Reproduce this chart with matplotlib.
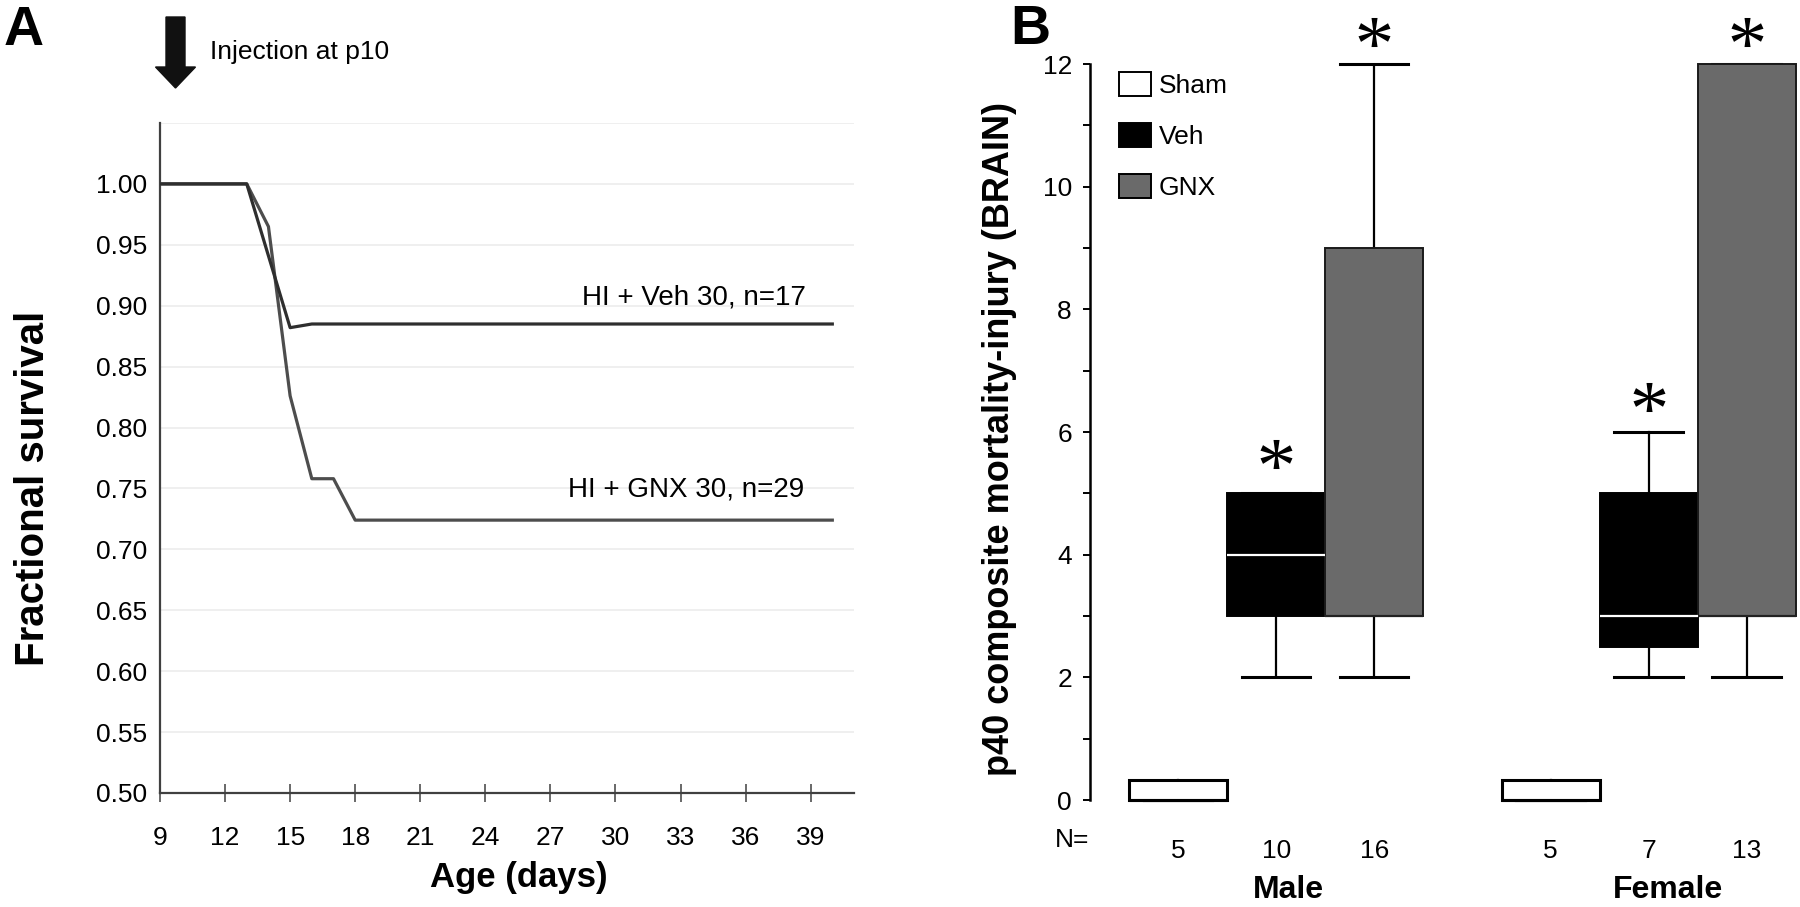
import matplotlib
matplotlib.use("Agg")
from matplotlib import pyplot as plt
from matplotlib.patches import Patch, FancyArrow
from matplotlib.textpath import TextPath
from matplotlib.font_manager import FontProperties
from matplotlib.path import Path
import numpy as np

plt.rcParams["font.family"] = ["Liberation Sans", "DejaVu Sans"]

# ---- panel A: survival curves ----
days_veh = [9, 10, 11, 12, 13, 15, 16, 40]
surv_veh = [1.0, 1.0, 1.0, 1.0, 1.0, 0.882, 0.885, 0.885]
days_gnx = [9, 10, 11, 12, 13, 14, 15, 16, 17, 18, 40]
surv_gnx = [1.0, 1.0, 1.0, 1.0, 1.0, 0.965, 0.826, 0.758, 0.758, 0.724, 0.724]
label_veh = "HI + Veh 30, n=17"
label_gnx = "HI + GNX 30, n=29"
x_ticks_a = list(range(9, 40, 3))
y_ticks_a = [0.50, 0.55, 0.60, 0.65, 0.70, 0.75, 0.80, 0.85, 0.90, 0.95, 1.00, 1.05]

# ---- panel B: box plots ----
groups = ["Sham", "Veh", "GNX"]
male_q1 = [0, 3, 3]
male_med = [0, 4, 3]
male_q3 = [0.33, 5, 9]
male_lo = [0, 2, 2]
male_hi = [0, 5, 12]
female_q1 = [0, 2.5, 3]
female_med = [0, 3, 3]
female_q3 = [0.33, 5, 12]
female_lo = [0, 2, 2]
female_hi = [0, 6, 12]
n_male = [5, 10, 16]
n_female = [5, 7, 13]
# asterisk heights (value units) for Veh and GNX in each sex
star_male = [5.64, 12.52]
star_female = [6.57, 12.52]

fig = plt.figure(figsize=(18, 9.07), dpi=100)

# ================= Panel A =================
ax = fig.add_axes([160 / 1800, 1 - 793 / 907, 694 / 1800, 670 / 907])
ax.plot(days_gnx, surv_gnx, color="#4d4d4d", lw=2.3, zorder=3)
ax.plot(days_veh, surv_veh, color="#2e2e2e", lw=2.3, zorder=4)
ax.set_xlim(9, 41)
ax.set_ylim(0.5, 1.05)
ax.set_xticks(x_ticks_a)
ax.set_xticklabels([str(d) for d in x_ticks_a], fontsize=19)
ax.set_yticks(y_ticks_a)
ax.set_yticklabels(["%.2f" % v for v in y_ticks_a[:-1]] + [""], fontsize=19)
ax.grid(axis="y", color="#ececec", lw=1.2)
ax.set_axisbelow(True)
for s in ["top", "right"]:
    ax.spines[s].set_visible(False)
for s in ["left", "bottom"]:
    ax.spines[s].set_color("#404040")
    ax.spines[s].set_linewidth(1.6)
ax.tick_params(axis="x", direction="inout", length=13, width=1.1, color="#404040", pad=17)
ax.tick_params(axis="y", length=0, pad=9)
ax.text(38.8, 0.907, label_veh, ha="right", va="center", fontsize=20)
ax.text(38.7, 0.749, label_gnx, ha="right", va="center", fontsize=20)

fig.text(4 / 1800, 1 - 31 / 907, "A", fontsize=40, fontweight="bold", va="center", ha="left")
arrow = FancyArrow(1.755, 8.90, 0, -0.71, width=0.19, head_width=0.40, head_length=0.21,
                   length_includes_head=True, color="#111111", transform=fig.dpi_scale_trans)
fig.patches.append(arrow)
fig.text(210 / 1800, 1 - 52 / 907, "Injection at p10", fontsize=19, va="center", ha="left")
fig.text(33 / 1800, 1 - 488 / 907, "Fractional survival", rotation=90, fontsize=29,
         fontweight="bold", va="center", ha="center")
fig.text(519 / 1800, 1 - 877 / 907, "Age (days)", fontsize=25, fontweight="bold",
         va="center", ha="center")

# ================= Panel B =================
bx = fig.add_axes([1090 / 1800, 1 - 800 / 907, 710 / 1800, 736 / 907])
pos_male = [0.9, 1.9, 2.9]
pos_female = [4.7, 5.7, 6.7]
stats = []
for q1, med, q3, lo, hi in zip(male_q1 + female_q1, male_med + female_med,
                               male_q3 + female_q3, male_lo + female_lo,
                               male_hi + female_hi):
    stats.append(dict(q1=q1, med=med, q3=q3, whislo=lo, whishi=hi))
bp = bx.bxp(stats, positions=pos_male + pos_female, widths=1.0, patch_artist=True,
            showfliers=False, capwidths=0.7, manage_ticks=False)
fills = ["white", "black", "#6a6a6a"] * 2
med_cols = ["black", "white", "#222222"] * 2
for i, box in enumerate(bp["boxes"]):
    box.set_facecolor(fills[i])
    box.set_edgecolor("black" if i % 3 != 2 else "#1a1a1a")
    box.set_linewidth(2.2 if i % 3 == 0 else 1.4)
    box.set_clip_on(False)
    box.set_zorder(3)
for i, m in enumerate(bp["medians"]):
    m.set_color(med_cols[i])
    m.set_linewidth(2.2 if i % 3 == 0 else 1.6)
    m.set_clip_on(False)
    m.set_zorder(4)
for w in bp["whiskers"]:
    w.set_color("black")
    w.set_linewidth(1.6)
    w.set_zorder(2)
for c in bp["caps"]:
    c.set_color("black")
    c.set_linewidth(2.2)
    c.set_clip_on(False)
    c.set_zorder(2)

bx.set_xlim(0, 7.245)
bx.set_ylim(0, 12)
bx.set_yticks(range(0, 13, 2))
bx.set_yticklabels([str(v) for v in range(0, 13, 2)], fontsize=19)
bx.set_yticks(range(1, 13, 2), minor=True)
bx.tick_params(axis="y", which="both", length=5, width=1.4, pad=8)
for s in ["top", "right", "bottom"]:
    bx.spines[s].set_visible(False)
bx.spines["left"].set_linewidth(1.8)
bx.set_xticks(pos_male + pos_female)
bx.set_xticklabels([str(n) for n in n_male + n_female], fontsize=19)
bx.tick_params(axis="x", length=0, pad=28)

# six-petal asterisk marker, centred on its own glyph box
tp = TextPath((0, 0), "*", size=1, prop=FontProperties(family="Liberation Serif"))
ext = tp.get_extents()
verts = tp.vertices - [(ext.x0 + ext.x1) / 2, (ext.y0 + ext.y1) / 2]
verts[tp.codes == Path.CLOSEPOLY] = 0
star = Path(verts, tp.codes)
bx.plot([pos_male[1], pos_male[2], pos_female[1], pos_female[2]],
        [star_male[0], star_male[1], star_female[0], star_female[1]],
        ls="none", marker=star, ms=23, color="black", mew=0, clip_on=False)

handles = [Patch(facecolor=f, edgecolor="black", lw=1.4) for f in ["white", "black", "#6a6a6a"]]
fig.legend(handles, groups, loc="upper left", bbox_to_anchor=(1101 / 1800, 1 - 54 / 907),
           frameon=False, handlelength=1.2, handleheight=1.0,
           labelspacing=0.95, handletextpad=0.3, borderpad=0.2, prop={"size": 19})

fig.text(1072 / 1800, 1 - 840 / 907, "N=", fontsize=19, ha="center", va="center")
fig.text(1288 / 1800, 1 - 890 / 907, "Male", fontsize=23, fontweight="bold", ha="center", va="center")
fig.text(1668 / 1800, 1 - 890 / 907, "Female", fontsize=23, fontweight="bold", ha="center", va="center")
fig.text(1030 / 1800, 1 - 30 / 907, "B", fontsize=40, fontweight="bold", ha="center", va="center")
fig.text(999 / 1800, 1 - 439 / 907, "p40 composite mortality-injury (BRAIN)", rotation=90,
         fontsize=26, fontweight="bold", ha="center", va="center")

fig.savefig("out.png", dpi=100)
